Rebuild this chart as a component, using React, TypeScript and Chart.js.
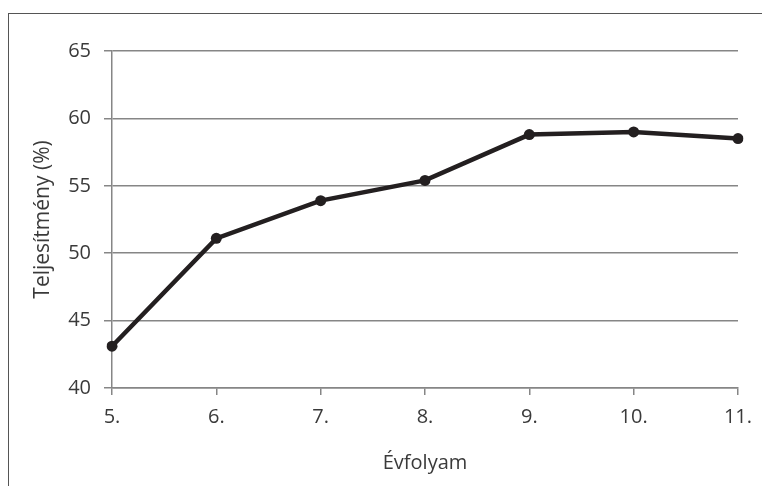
import React, { useEffect, useRef } from "react";
import { Chart, registerables } from "chart.js";

Chart.register(...registerables);

const categories = ["5.", "6.", "7.", "8.", "9.", "10.", "11."];
const performance = [43.1, 51.1, 53.9, 55.4, 58.8, 59.0, 58.5];
const yTitle = "Teljesítmény (%)";
const xTitle = "Évfolyam";

export default function App() {
  const ref = useRef<HTMLCanvasElement | null>(null);

  useEffect(() => {
    if (!ref.current) return;
    const gridColor = "#868686";
    const textColor = "#3a3a3a";
    const font = { family: "'Open Sans', sans-serif", size: 20 };
    const chart = new Chart(ref.current, {
      type: "line",
      data: {
        labels: categories,
        datasets: [
          {
            data: performance,
            borderColor: "#231f20",
            backgroundColor: "#231f20",
            borderWidth: 4.5,
            pointRadius: 5.5,
            pointHoverRadius: 5.5,
            pointBackgroundColor: "#231f20",
            pointBorderWidth: 0,
            tension: 0,
          },
        ],
      },
      options: {
        animation: false,
        responsive: false,
        maintainAspectRatio: false,
        layout: { padding: { left: 0, top: 37, right: 32, bottom: 0 } },
        plugins: { legend: { display: false }, tooltip: { enabled: false } },
        scales: {
          x: {
            type: "category",
            offset: false,
            grid: {
              display: true,
              drawOnChartArea: false,
              drawTicks: true,
              tickLength: 7,
              color: gridColor,
              lineWidth: 1.5,
            },
            border: { display: true, color: gridColor, width: 1.5 },
            ticks: { color: textColor, font, padding: 10, maxRotation: 0 },
            title: {
              display: true,
              text: xTitle,
              color: textColor,
              font,
              padding: { top: 0, bottom: 11 },
            },
            afterFit: (scale: any) => {
              scale.height = 98;
            },
          },
          y: {
            min: 40,
            max: 65,
            ticks: { stepSize: 5, color: textColor, font, padding: 13 },
            grid: {
              color: gridColor,
              lineWidth: 1.5,
              tickLength: 8,
            },
            border: { display: true, color: gridColor, width: 1.5 },
            title: {
              display: true,
              text: yTitle,
              color: textColor,
              font: { family: "'Open Sans', sans-serif", size: 21 },
              padding: { top: 21, bottom: 0 },
            },
            afterFit: (scale: any) => {
              scale.width = 103;
            },
          },
        },
      },
    });
    return () => chart.destroy();
  }, []);

  return (
    <div
      style={{
        marginTop: 5,
        position: "relative",
        width: 762,
        height: 473,
        borderTop: "1.5px solid #555",
        borderLeft: "1.5px solid #555",
        boxSizing: "border-box",
        background: "#fff",
      }}
    >
      <canvas
        ref={ref}
        width={761}
        height={472}
        style={{ display: "block", width: 761, height: 472 }}
      />
    </div>
  );
}
